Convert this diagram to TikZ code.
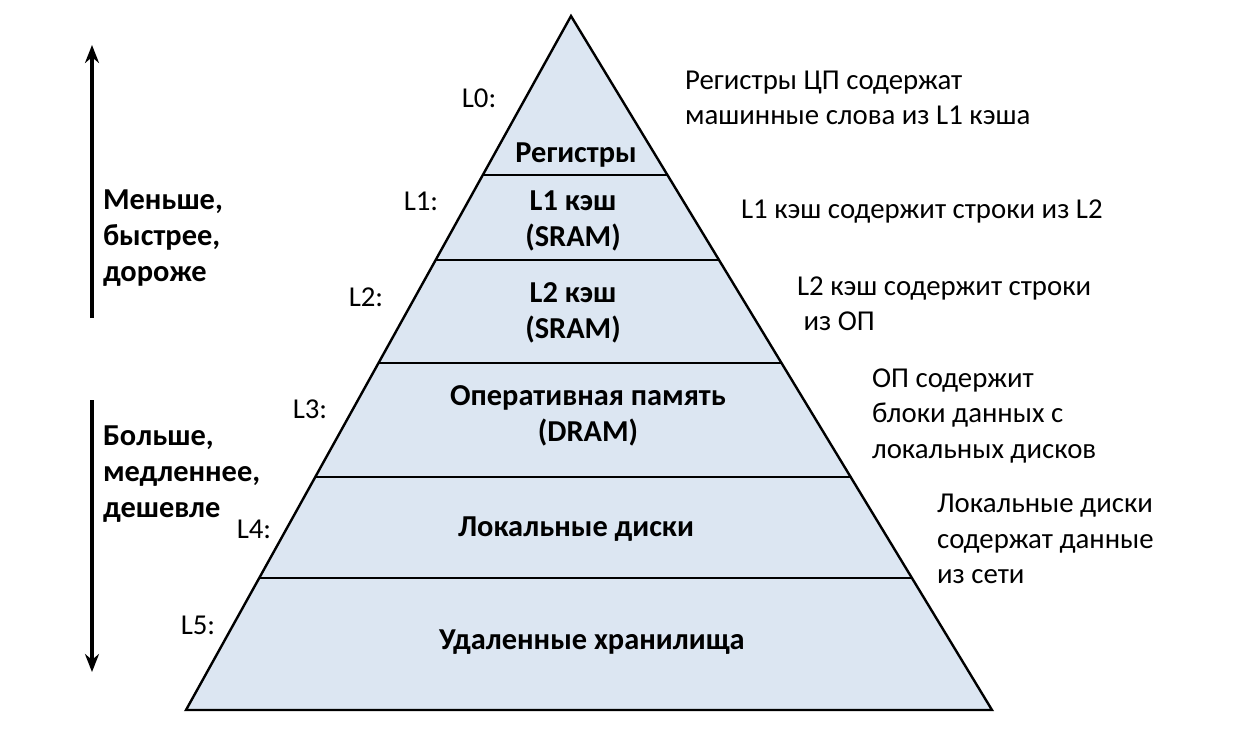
\documentclass[tikz,border=0pt]{standalone}
\usepackage{fontspec}
\setmainfont{Carlito}
\usetikzlibrary{calc, arrows.meta}
\definecolor{bandfill}{HTML}{DCE6F2}

\begin{document}
\begin{tikzpicture}[x=0.5pt, y=-0.5pt,
  every node/.style={font=\fontsize{14.4}{17.6}\selectfont},
  lvl/.style={anchor=center},
  band/.style={align=center, font=\fontsize{15.2}{18.2}\selectfont\bfseries},
  note/.style={align=left, anchor=west},
  side/.style={align=left, anchor=west, font=\fontsize{15.2}{18.2}\selectfont\bfseries},
  sep/.style={line width=0.6pt},
  bigarrow/.style={line width=1.6pt, -{Stealth[length=9pt, width=7pt]}}]
  \useasboundingbox (0,0) rectangle (1257,741);
  % pyramid
  \coordinate (top) at (571,16);
  \coordinate (bl) at (186,710);
  \coordinate (br) at (992,710);
  \fill[bandfill] (top) -- (bl) -- (br) -- cycle;
  \foreach \y/\w in {175/1.2pt, 260/0.6pt, 363/0.6pt, 477/0.6pt, 578/0.6pt} {
    \pgfmathsetmacro{\t}{(\y-16)/694}
    \draw[line width=\w] ($(top)!\t!(bl)$) -- ($(top)!\t!(br)$);
  }
  \draw[line width=1.2pt, line join=miter] (top) -- (bl) -- (br) -- cycle;
  % bands
  \node[band] (reg) at (576,155) {Регистры};
  \node[band] (lone) at (573,221) {L1 кэш\\(SRAM)};
  \node[band] (ltwo) at (573,313) {L2 кэш\\(SRAM)};
  \node[band] (ram) at (588,416) {Оперативная память\\(DRAM)};
  \node[band] (disk) at (576,529) {Локальные диски};
  \node[band] (remote) at (592,642) {Удаленные хранилища};
  % levels
  \node[lvl] (lzero) at (479,98) {L0:};
  \node[lvl] (lonel) at (421,201) {L1:};
  \node[lvl] (ltwol) at (366,297) {L2:};
  \node[lvl] (lthree) at (310,409) {L3:};
  \node[lvl] (lfour) at (254,529) {L4:};
  \node[lvl] (lfive) at (198,625) {L5:};
  % notes
  \node[note] (nreg) at (678,98) {Регистры ЦП содержат\\машинные слова из L1 кэша};
  \node[note] (nlone) at (734,212) {L1 кэш содержит строки из L2};
  \node[note] (nltwo) at (790,304) {L2 кэш содержит строки\\\ из ОП};
  \node[note] (nram) at (865,416) {ОП содержит\\блоки данных с\\локальных дисков};
  \node[note] (ndisk) at (930,539) {Локальные диски\\содержат данные\\из сети};
  % left side
  \node[side] (small) at (96,238) {Меньше,\\быстрее,\\дороже};
  \node[side] (large) at (96,474) {Больше,\\медленнее,\\дешевле};
  \coordinate (upfrom) at (92,318);
  \coordinate (upto) at (92,45);
  \coordinate (downfrom) at (92,400);
  \coordinate (downto) at (92,672);
  \draw[bigarrow] (upfrom) -- (upto);
  \draw[bigarrow] (downfrom) -- (downto);
\end{tikzpicture}
\end{document}
